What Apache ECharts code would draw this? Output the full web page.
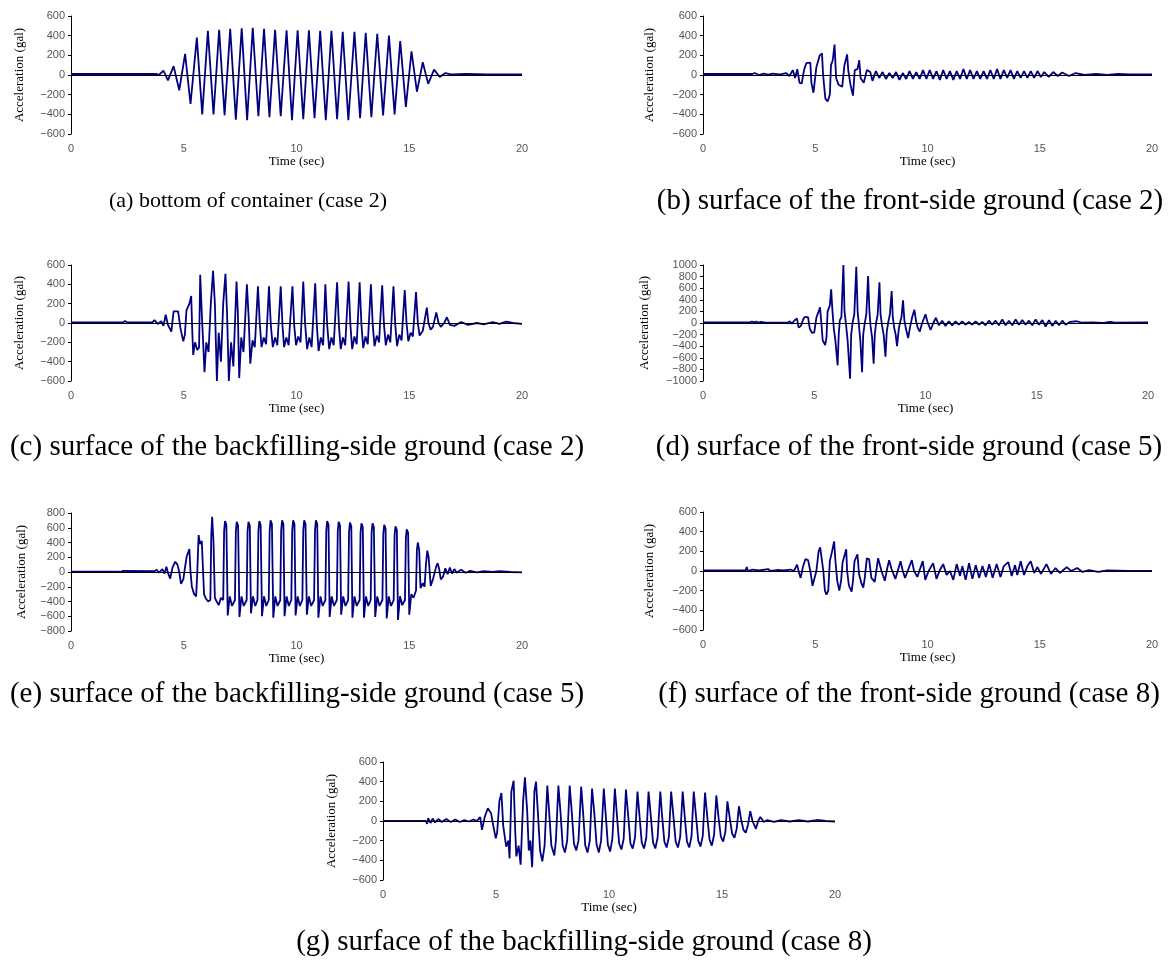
<!DOCTYPE html>
<html>
<head>
<meta charset="utf-8">
<title>Acceleration records</title>
<script src="https://cdn.jsdelivr.net/npm/echarts@6.0.0/dist/echarts.min.js"></script>
<style>
  html, body { margin: 0; padding: 0; background: #fff; }
  #chart { width: 1173px; height: 960px; }
</style>
</head>
<body>
<div id="chart"></div>
<script>
// time axis ticks (sec)
const timeTicks = [0, 5, 10, 15, 20]

const captions = [
  "(a) bottom of container (case 2)",
  "(b) surface of the front-side ground (case 2)",
  "(c) surface of the backfilling-side ground (case 2)",
  "(d) surface of the front-side ground (case 5)",
  "(e) surface of the backfilling-side ground (case 5)",
  "(f) surface of the front-side ground (case 8)",
  "(g) surface of the backfilling-side ground (case 8)"
]

// [time (sec), acceleration (gal)]
const bottomCase2 = [
  [0,10],[3.8,10],[3.9,0],[4.1,45],[4.3,-55],[4.55,90],[4.8,-155],[5.06,215],[5.3,-295],[5.58,380],
  [5.82,-400],[6.07,450],[6.32,-400],[6.57,460],[6.81,-410],[7.06,470],[7.31,-455],[7.57,475],[7.81,-460],
  [8.06,480],[8.31,-420],[8.56,470],[8.8,-430],[9.05,460],[9.3,-420],[9.56,455],[9.8,-460],[10.05,455],
  [10.3,-450],[10.55,455],[10.8,-440],[11.05,450],[11.3,-460],[11.55,450],[11.8,-450],[12.05,440],
  [12.3,-460],[12.57,440],[12.82,-440],[13.07,430],[13.32,-430],[13.58,420],[13.84,-410],[14.1,400],
  [14.35,-400],[14.6,345],[14.85,-325],[15.1,240],[15.34,-170],[15.6,130],[15.84,-90],[16.1,55],
  [16.35,-20],[16.6,20],[16.9,5],[17.5,10],[18.5,5],[20,5]
]

const frontCase2 = [
  [0,10],[2.2,10],[2.3,20],[2.5,0],[2.7,15],[2.9,5],[3.1,15],[3.4,5],[3.7,20],[3.85,-10],[4.0,50],
  [4.1,-30],[4.2,60],[4.3,-80],[4.4,-85],[4.5,50],[4.6,120],[4.78,125],[4.83,-80],[4.92,-180],[5.0,-190],
  [5.05,80],[5.2,200],[5.3,220],[5.35,0],[5.45,-240],[5.55,-270],[5.65,-200],[5.7,100],[5.78,150],
  [5.86,310],[5.93,-30],[6.04,-100],[6.2,-120],[6.3,100],[6.42,210],[6.47,50],[6.57,-100],[6.68,-210],
  [6.73,-220],[6.76,50],[6.88,60],[6.96,150],[7.02,-30],[7.16,-80],[7.22,-100],[7.3,50],[7.45,30],
  [7.55,-60],[7.7,40],[7.85,-30],[8.0,30],[8.15,-40],[8.3,20],[8.45,-30],[8.6,30],[8.75,-50],[8.9,20],
  [9.05,-40],[9.2,40],[9.35,-40],[9.5,30],[9.65,-40],[9.8,50],[9.95,-40],[10.1,50],[10.25,-40],[10.4,40],
  [10.55,-50],[10.7,50],[10.85,-40],[11.0,40],[11.15,-50],[11.3,40],[11.45,-40],[11.6,60],[11.75,-40],
  [11.9,50],[12.05,-40],[12.2,40],[12.35,-40],[12.5,40],[12.65,-40],[12.8,50],[12.95,-40],[13.1,60],
  [13.25,-40],[13.4,50],[13.55,-30],[13.7,50],[13.85,-40],[14.0,40],[14.15,-30],[14.3,40],[14.45,-30],
  [14.6,40],[14.75,-30],[14.9,40],[15.05,-20],[15.2,30],[15.4,-20],[15.6,30],[15.8,-10],[16.0,25],
  [16.3,-10],[16.6,20],[17.0,0],[17.5,10],[18.0,0],[18.5,10],[19.0,5],[20,5]
]

const backCase2 = [
  [0,5],[2.3,5],[2.4,20],[2.5,5],[3.6,5],[3.7,30],[3.85,-10],[4.0,20],[4.1,-30],[4.2,85],[4.3,-20],
  [4.45,-90],[4.55,120],[4.75,120],[4.85,-50],[4.98,-190],[5.05,-120],[5.12,130],[5.25,200],[5.33,280],
  [5.38,-100],[5.42,-330],[5.5,-200],[5.6,-280],[5.68,-250],[5.73,500],[5.8,100],[5.92,-510],[6.0,-200],
  [6.1,-300],[6.2,200],[6.3,540],[6.38,200],[6.47,-600],[6.55,-100],[6.65,-400],[6.75,200],[6.85,510],
  [6.92,100],[7.0,-600],[7.1,-200],[7.2,-450],[7.34,430],[7.4,100],[7.46,-570],[7.55,-150],[7.65,-300],
  [7.8,400],[7.88,50],[7.95,-420],[8.05,-180],[8.15,-250],[8.29,380],[8.37,0],[8.45,-250],[8.55,-150],
  [8.65,-220],[8.78,380],[8.86,-20],[8.95,-250],[9.05,-150],[9.15,-230],[9.3,380],[9.38,-30],[9.45,-250],
  [9.55,-150],[9.65,-230],[9.82,380],[9.9,-30],[9.98,-230],[10.08,-140],[10.18,-200],[10.3,430],[10.38,0],
  [10.47,-270],[10.57,-150],[10.67,-250],[10.83,410],[10.9,-20],[10.98,-290],[11.08,-150],[11.18,-230],
  [11.28,400],[11.36,-20],[11.45,-270],[11.55,-150],[11.65,-230],[11.8,420],[11.88,-20],[11.96,-270],
  [12.06,-150],[12.16,-230],[12.31,430],[12.39,-20],[12.47,-270],[12.57,-140],[12.67,-220],[12.8,420],
  [12.88,-20],[12.96,-260],[13.06,-140],[13.16,-220],[13.3,400],[13.38,-20],[13.46,-240],[13.56,-130],
  [13.66,-200],[13.8,390],[13.88,-20],[13.96,-230],[14.06,-120],[14.16,-200],[14.3,380],[14.38,-20],
  [14.46,-240],[14.56,-120],[14.66,-180],[14.8,340],[14.88,0],[14.96,-190],[15.06,-100],[15.16,-140],
  [15.3,320],[15.38,0],[15.46,-130],[15.6,-80],[15.78,160],[15.85,0],[15.95,-70],[16.05,-40],[16.2,110],
  [16.3,0],[16.4,-40],[16.55,0],[16.67,60],[16.8,-20],[17.0,-30],[17.3,10],[17.6,-20],[18.0,0],
  [18.3,-15],[18.7,10],[19.0,-10],[19.3,15],[19.6,0],[20,-10]
]

const frontCase5 = [
  [0,10],[2.1,10],[2.2,25],[2.3,10],[2.4,25],[2.5,5],[2.6,20],[2.8,5],[3.8,5],[3.9,30],[4.0,-10],
  [4.1,40],[4.22,80],[4.3,-80],[4.4,-50],[4.5,60],[4.56,100],[4.72,100],[4.8,-100],[4.9,-170],[5.0,-160],
  [5.1,100],[5.2,200],[5.26,270],[5.32,0],[5.38,-300],[5.49,-380],[5.55,-250],[5.6,200],[5.7,300],
  [5.76,580],[5.82,200],[5.88,-100],[5.95,-300],[6.05,-730],[6.1,-200],[6.15,50],[6.22,100],[6.31,1000],
  [6.36,200],[6.42,0],[6.5,-300],[6.61,-960],[6.66,-200],[6.72,0],[6.8,150],[6.89,970],[6.95,200],
  [7.0,0],[7.07,-300],[7.15,-850],[7.2,-200],[7.27,0],[7.34,150],[7.42,810],[7.48,200],[7.53,-50],
  [7.6,-250],[7.67,-700],[7.72,-200],[7.78,0],[7.85,150],[7.93,700],[7.98,150],[8.05,-50],[8.12,-200],
  [8.2,-580],[8.26,-150],[8.32,0],[8.4,150],[8.48,550],[8.53,100],[8.6,-100],[8.66,-200],[8.72,-400],
  [8.8,-100],[8.85,0],[8.92,100],[8.99,390],[9.05,50],[9.12,-100],[9.22,-260],[9.3,-80],[9.4,100],
  [9.5,230],[9.58,20],[9.65,-80],[9.74,-150],[9.85,0],[10.0,150],[10.08,30],[10.23,-120],[10.35,0],
  [10.47,90],[10.6,-40],[10.75,40],[10.9,-50],[11.05,30],[11.2,-40],[11.35,30],[11.5,-30],[11.65,30],
  [11.8,-30],[11.95,20],[12.1,-30],[12.25,30],[12.4,-30],[12.55,20],[12.7,-40],[12.85,40],[13.0,-30],
  [13.15,40],[13.3,-40],[13.45,60],[13.6,-40],[13.75,40],[13.9,-40],[14.05,60],[14.2,-30],[14.35,50],
  [14.5,-30],[14.65,40],[14.8,-40],[14.95,60],[15.1,-30],[15.25,50],[15.4,-60],[15.55,50],[15.7,-50],
  [15.85,40],[16.0,-40],[16.15,40],[16.3,-30],[16.5,20],[16.8,30],[17.0,5],[17.5,10],[18.0,0],
  [18.3,20],[18.5,5],[20,10]
]

const backCase5 = [
  [0,5],[2.1,5],[2.15,30],[2.2,0],[2.3,15],[3.7,10],[3.8,30],[3.9,-10],[4.05,40],[4.15,-20],[4.23,70],
  [4.32,-30],[4.4,-90],[4.5,60],[4.62,140],[4.72,100],[4.8,0],[4.88,-160],[4.98,-100],[5.05,50],
  [5.13,210],[5.25,310],[5.3,0],[5.36,-200],[5.46,-300],[5.55,-330],[5.6,0],[5.66,500],[5.72,380],
  [5.8,420],[5.85,400],[5.9,-300],[5.98,-360],[6.08,-400],[6.18,-380],[6.22,500],[6.26,750],[6.32,400],
  [6.38,-350],[6.46,-400],[6.55,-450],[6.65,-350],
  [6.75,-380],[6.79,550],[6.83,690],[6.89,640],[6.95,-590],[7.04,-330],[7.14,-460],
  [7.27,-380],[7.31,550],[7.35,680],[7.41,630],[7.47,-610],[7.56,-330],[7.66,-460],
  [7.79,-380],[7.83,550],[7.87,680],[7.93,630],[7.98,-560],[8.07,-330],[8.17,-460],
  [8.27,-380],[8.31,550],[8.35,690],[8.41,640],[8.47,-600],[8.56,-330],[8.66,-460],
  [8.77,-380],[8.81,560],[8.85,700],[8.91,650],[8.97,-620],[9.06,-330],[9.16,-460],
  [9.28,-380],[9.32,560],[9.36,700],[9.42,650],[9.47,-600],[9.56,-330],[9.66,-460],
  [9.77,-380],[9.81,560],[9.85,700],[9.91,650],[9.96,-590],[10.05,-330],[10.15,-460],
  [10.26,-380],[10.3,560],[10.34,700],[10.4,650],[10.46,-580],[10.55,-330],[10.65,-460],
  [10.78,-380],[10.82,560],[10.86,700],[10.92,650],[10.97,-620],[11.06,-330],[11.16,-460],
  [11.28,-380],[11.32,550],[11.36,690],[11.42,640],[11.47,-610],[11.56,-330],[11.66,-460],
  [11.79,-380],[11.83,550],[11.87,680],[11.93,630],[11.98,-580],[12.07,-330],[12.17,-460],
  [12.29,-380],[12.33,540],[12.37,670],[12.43,620],[12.48,-620],[12.57,-330],[12.67,-460],
  [12.8,-380],[12.84,530],[12.88,660],[12.94,610],[12.99,-620],[13.08,-330],[13.18,-460],
  [13.29,-380],[13.33,530],[13.37,660],[13.43,610],[13.49,-610],[13.58,-330],[13.68,-460],
  [13.81,-380],[13.85,520],[13.89,640],[13.95,590],[14.0,-630],[14.09,-330],[14.19,-460],
  [14.31,-380],[14.35,500],[14.39,620],[14.45,570],[14.5,-650],[14.59,-330],[14.69,-450],
  [14.81,-380],[14.85,460],[14.89,580],[14.95,530],[15.0,-580],[15.09,-300],[15.19,-350],
  [15.3,-250],[15.34,300],[15.38,400],[15.44,300],[15.5,-220],[15.6,-150],[15.68,-200],
  [15.74,100],[15.8,290],[15.86,200],[15.95,-190],[16.05,-100],[16.12,-120],
  [16.2,80],[16.26,120],[16.32,50],[16.4,-100],[16.5,-60],[16.6,50],[16.7,-30],[16.8,60],[16.9,-20],
  [17.0,40],[17.1,-10],[17.3,30],[17.5,-10],[17.7,15],[18.0,-5],[18.3,10],[18.7,0],[19.0,10],[19.5,0],[20,-5]
]

const frontCase8 = [
  [0,5],[1.9,5],[1.95,40],[2.0,0],[2.2,15],[2.5,5],[2.9,20],[3.0,0],[3.3,10],[3.6,5],[3.9,15],[4.05,0],
  [4.19,65],[4.28,-20],[4.35,-70],[4.45,40],[4.56,120],[4.68,110],[4.78,0],[4.88,-150],[4.96,-170],
  [5.05,0],[5.15,200],[5.22,240],[5.3,230],[5.36,0],[5.43,-200],[5.5,-240],[5.58,-200],[5.65,100],
  [5.75,200],[5.84,300],[5.9,100],[5.98,-100],[6.07,-200],[6.15,-100],[6.22,90],[6.3,110],[6.38,220],
  [6.42,0],[6.5,-150],[6.62,-210],[6.68,-100],[6.75,100],[6.88,170],[6.95,-30],[7.05,-120],[7.14,-170],
  [7.2,-80],[7.3,130],[7.4,120],[7.5,-70],[7.65,-110],[7.8,130],[7.95,0],[8.1,-100],[8.2,20],[8.29,110],
  [8.4,20],[8.57,-80],[8.7,20],[8.8,100],[8.9,0],[9.0,-70],[9.15,20],[9.3,110],[9.4,0],[9.55,-60],
  [9.65,10],[9.79,100],[9.9,-90],[10.05,0],[10.25,80],[10.4,-80],[10.55,10],[10.7,70],[10.85,-40],
  [11.0,0],[11.15,-90],[11.3,70],[11.45,-50],[11.55,50],[11.7,-90],[11.85,80],[12.0,-80],[12.15,60],
  [12.3,-70],[12.45,50],[12.6,-60],[12.75,70],[12.9,-70],[13.08,70],[13.25,-60],[13.4,50],[13.6,90],
  [13.75,-50],[13.9,60],[14.0,-40],[14.15,100],[14.3,-40],[14.45,50],[14.6,100],[14.75,-20],[14.9,40],
  [15.05,-30],[15.3,70],[15.5,-30],[15.7,30],[15.9,-20],[16.2,40],[16.4,0],[16.67,30],[16.9,-10],
  [17.2,10],[17.6,-10],[18,5],[19,0],[20,0]
]

const backCase8 = [
  [0,0],[1.9,0],[1.95,-30],[2.0,30],[2.1,-20],[2.2,25],[2.3,-15],[2.45,20],[2.6,-10],[2.8,20],[3.0,-10],
  [3.2,15],[3.4,-10],[3.6,10],[3.8,-5],[4.0,15],[4.15,0],[4.3,40],[4.38,-90],[4.5,40],[4.64,130],
  [4.78,80],[4.88,-50],[4.99,-175],[5.05,-120],[5.15,200],[5.24,285],[5.32,-50],[5.45,-260],[5.55,-200],
  [5.6,-380],[5.68,300],[5.78,410],[5.85,-100],[5.9,-360],[6.0,-250],[6.09,-445],[6.2,200],[6.28,445],
  [6.38,100],[6.45,-300],[6.52,-200],[6.6,-470],[6.7,300],[6.77,400],[6.85,100],[6.95,-300],[7.05,-410],
  [7.15,-250],[7.27,360],[7.35,100],[7.45,-250],[7.58,-350],[7.65,-200],[7.76,360],[7.85,100],
  [7.95,-250],[8.05,-320],[8.15,-200],[8.26,360],[8.35,100],[8.45,-230],[8.55,-300],[8.65,-200],
  [8.77,350],[8.85,100],[8.95,-250],[9.05,-320],[9.15,-200],[9.25,330],[9.35,80],[9.45,-240],[9.55,-320],
  [9.65,-200],[9.77,330],[9.85,80],[9.95,-240],[10.05,-310],[10.15,-180],[10.26,330],[10.35,60],
  [10.45,-230],[10.55,-290],[10.65,-180],[10.75,320],[10.85,50],[10.95,-230],[11.05,-280],[11.15,-170],
  [11.26,300],[11.35,50],[11.45,-220],[11.55,-280],[11.65,-170],[11.75,300],[11.85,50],[11.95,-220],
  [12.05,-280],[12.15,-170],[12.27,300],[12.35,50],[12.45,-210],[12.55,-270],[12.65,-160],[12.75,300],
  [12.85,50],[12.95,-210],[13.05,-270],[13.15,-160],[13.26,300],[13.35,50],[13.45,-210],[13.55,-270],
  [13.65,-160],[13.75,300],[13.85,50],[13.95,-200],[14.05,-260],[14.15,-150],[14.25,290],[14.35,40],
  [14.45,-190],[14.55,-250],[14.65,-140],[14.75,260],[14.85,30],[14.95,-160],[15.05,-210],[15.15,-110],
  [15.24,200],[15.35,20],[15.45,-130],[15.55,-170],[15.65,-80],[15.75,150],[15.85,10],[15.95,-90],
  [16.05,-120],[16.15,-40],[16.25,100],[16.35,0],[16.5,-80],[16.6,0],[16.7,40],[16.85,-10],[17.0,10],
  [17.3,-10],[17.6,10],[18.0,-5],[18.4,10],[18.8,-5],[19.2,10],[19.6,0],[20,-5]
]

// y-axis ranges per panel [min, max, interval]
const yRanges = [
  [-600, 600, 200], [-600, 600, 200], [-600, 600, 200], [-1000, 1000, 200],
  [-800, 800, 200], [-600, 600, 200], [-600, 600, 200]
]

const traces = [bottomCase2, frontCase2, backCase2, frontCase5, backCase5, frontCase8, backCase8]

// layout of each small plot (pixels)
const panels = [
  { left: 71,  top: 16,  width: 451, height: 118, nameGap: 45, cap: [248, 201], capSize: 22 },
  { left: 703, top: 16,  width: 449, height: 118, nameGap: 47, cap: [910, 201], capSize: 29 },
  { left: 71,  top: 265, width: 451, height: 116, nameGap: 45, cap: [297, 447], capSize: 29 },
  { left: 703, top: 265, width: 445, height: 116, nameGap: 52, cap: [909, 447], capSize: 29 },
  { left: 71,  top: 513, width: 451, height: 118, nameGap: 43, cap: [297, 694], capSize: 29 },
  { left: 703, top: 512, width: 449, height: 118, nameGap: 47, cap: [909, 694], capSize: 29 },
  { left: 383, top: 762, width: 452, height: 118, nameGap: 45, cap: [584, 942], capSize: 29 }
]

const tickFont = { fontFamily: "Liberation Sans", fontSize: 11, color: "#555" }
const nameFont = { fontFamily: "Liberation Serif", fontSize: 13, color: "#000" }

const chart = echarts.init(document.getElementById("chart"), null, { renderer: "canvas" })

chart.setOption({
  animation: false,
  backgroundColor: "#fff",
  grid: panels.map(p => ({ left: p.left, top: p.top, width: p.width, height: p.height, containLabel: false })),
  xAxis: panels.map((p, i) => ({
    type: "value",
    gridIndex: i,
    min: timeTicks[0],
    max: timeTicks[timeTicks.length - 1],
    interval: timeTicks[1] - timeTicks[0],
    name: "Time (sec)",
    nameLocation: "middle",
    nameGap: 21,
    nameTextStyle: nameFont,
    axisLine: { show: false },
    axisTick: { show: false },
    splitLine: { show: false },
    axisLabel: { ...tickFont, margin: 9 }
  })),
  yAxis: panels.map((p, i) => ({
    type: "value",
    gridIndex: i,
    min: yRanges[i][0],
    max: yRanges[i][1],
    interval: yRanges[i][2],
    name: "Acceleration (gal)",
    nameLocation: "middle",
    nameGap: p.nameGap,
    nameTextStyle: nameFont,
    axisLine: { show: true, onZero: false, lineStyle: { color: "#000", width: 1 } },
    axisTick: { show: true, length: 3, lineStyle: { color: "#000" } },
    splitLine: { show: false },
    axisLabel: { ...tickFont, margin: 6, formatter: v => String(v).replace("-", "\u2212") }
  })),
  series: traces.map((data, i) => ({
    type: "line",
    xAxisIndex: i,
    yAxisIndex: i,
    data: data,
    showSymbol: false,
    sampling: null,
    lineStyle: { color: "#000080", width: 1.8 },
    markLine: {
      silent: true,
      symbol: "none",
      label: { show: false },
      lineStyle: { color: "#000", width: 1, type: "solid" },
      data: [{ yAxis: 0 }]
    }
  })),
  graphic: panels.map((p, i) => ({
    type: "text",
    x: p.cap[0],
    y: p.cap[1],
    style: {
      text: captions[i],
      fill: "#000",
      font: p.capSize + 'px "Liberation Serif"',
      align: "center",
      verticalAlign: "middle"
    }
  }))
})
</script>
</body>
</html>
